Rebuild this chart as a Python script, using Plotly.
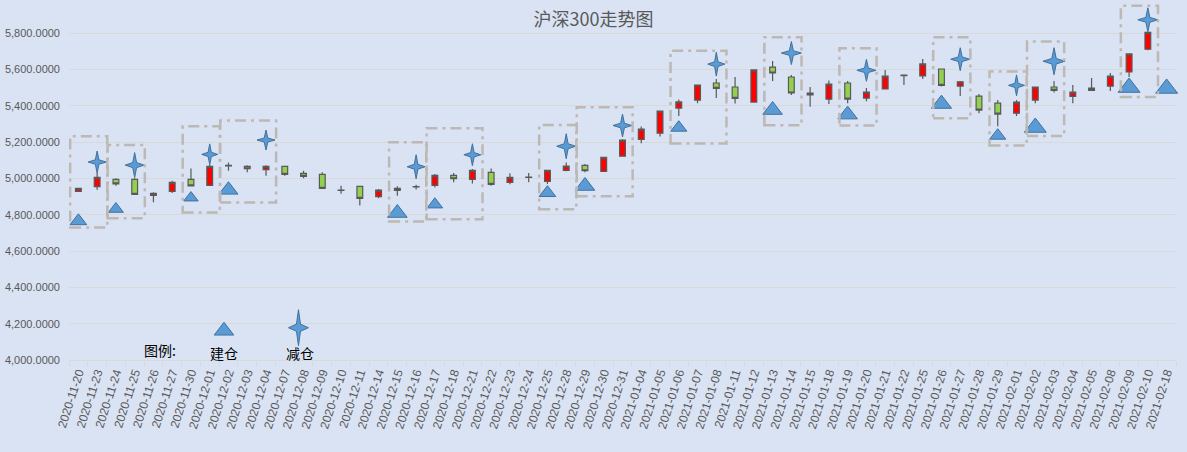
import plotly.graph_objects as go

# ---------------- data ----------------
dates = [
    "2020-11-20", "2020-11-23", "2020-11-24", "2020-11-25", "2020-11-26", "2020-11-27", "2020-11-30",
    "2020-12-01", "2020-12-02", "2020-12-03", "2020-12-04", "2020-12-07", "2020-12-08", "2020-12-09",
    "2020-12-10", "2020-12-11", "2020-12-14", "2020-12-15", "2020-12-16", "2020-12-17", "2020-12-18",
    "2020-12-21", "2020-12-22", "2020-12-23", "2020-12-24", "2020-12-25", "2020-12-28", "2020-12-29",
    "2020-12-30", "2020-12-31", "2021-01-04", "2021-01-05", "2021-01-06", "2021-01-07", "2021-01-08",
    "2021-01-11", "2021-01-12", "2021-01-13", "2021-01-14", "2021-01-15", "2021-01-18", "2021-01-19",
    "2021-01-20", "2021-01-21", "2021-01-22", "2021-01-25", "2021-01-26", "2021-01-27", "2021-01-28",
    "2021-01-29", "2021-02-01", "2021-02-02", "2021-02-03", "2021-02-04", "2021-02-05", "2021-02-08",
    "2021-02-09", "2021-02-10", "2021-02-18",
]

open_ = [4928, 4954, 4994, 4994, 4906, 4928, 4994, 4961, 5068, 5066, 5048, 5066, 5028, 5022, 4936,
         4956, 4900, 4934, 4953, 4961, 5017, 4994, 5033, 4978, 5005, 4983, 5044, 5072, 5039, 5122,
         5215, 5249, 5387, 5431, 5525, 5503, 5420, 5613, 5558, 5470, 5436, 5525, 5442, 5492, 5568,
         5564, 5602, 5508, 5453, 5414, 5359, 5431, 5503, 5451, 5497, 5508, 5586, 5711]
high = [4948, 5029, 5000, 5000, 4924, 4987, 5055, 5073, 5088, 5072, 5072, 5068, 5042, 5033, 4959,
        4958, 4941, 4956, 4965, 5024, 5029, 5051, 5055, 5028, 5029, 5044, 5088, 5079, 5116, 5215,
        5285, 5370, 5434, 5514, 5547, 5558, 5597, 5646, 5569, 5503, 5539, 5536, 5497, 5597, 5569,
        5657, 5602, 5536, 5464, 5431, 5431, 5503, 5536, 5514, 5552, 5580, 5685, 5807]
low = [4925, 4937, 4959, 4910, 4869, 4919, 4959, 4961, 5042, 5033, 5014, 5014, 5000, 4945, 4915,
       4851, 4890, 4904, 4939, 4950, 4978, 4972, 4959, 4967, 4978, 4969, 5039, 5033, 5039, 5122,
       5193, 5230, 5343, 5414, 5442, 5412, 5420, 5536, 5459, 5394, 5409, 5414, 5425, 5492, 5514,
       5547, 5506, 5453, 5359, 5287, 5343, 5414, 5473, 5414, 5481, 5481, 5558, 5705]
close = [4945, 5006, 4970, 4912, 4917, 4978, 4959, 5066, 5071, 5053, 5066, 5022, 5011, 4945, 4934,
         4890, 4935, 4945, 4955, 5017, 4998, 5044, 4967, 5006, 5007, 5044, 5068, 5042, 5116, 5211,
         5271, 5370, 5421, 5514, 5495, 5440, 5597, 5580, 5470, 5459, 5519, 5436, 5475, 5563, 5565,
         5630, 5512, 5532, 5376, 5354, 5420, 5503, 5484, 5475, 5484, 5563, 5685, 5804]

# 建仓 (build position) signals
buy_dates = ["2020-11-20", "2020-11-24", "2020-11-30", "2020-12-02", "2020-12-15", "2020-12-17",
             "2020-12-25", "2020-12-29", "2021-01-06", "2021-01-13", "2021-01-19", "2021-01-26",
             "2021-01-29", "2021-02-02", "2021-02-09", "2021-02-18"]
buy_values = [4765, 4831, 4893, 4936, 4809, 4856, 4920, 4958, 5279, 5376, 5351, 5410,
              5235, 5280, 5500, 5495]

# 减仓 (reduce position) signals
sell_dates = ["2020-11-23", "2020-11-25", "2020-12-01", "2020-12-04", "2020-12-16", "2020-12-21",
              "2020-12-28", "2020-12-31", "2021-01-08", "2021-01-14", "2021-01-20", "2021-01-27",
              "2021-02-01", "2021-02-03", "2021-02-10"]
sell_values = [5090, 5073, 5132, 5211, 5064, 5130, 5177, 5291, 5629, 5690, 5595, 5656,
               5512, 5645, 5873]

# dashed boxes grouping trades
box_start = ["2020-11-20", "2020-11-24", "2020-11-30", "2020-12-02", "2020-12-15", "2020-12-17",
             "2020-12-25", "2020-12-29", "2021-01-06", "2021-01-13", "2021-01-19", "2021-01-26",
             "2021-01-29", "2021-02-02", "2021-02-09"]
box_end = ["2020-11-23", "2020-11-25", "2020-12-01", "2020-12-04", "2020-12-16", "2020-12-21",
           "2020-12-28", "2020-12-31", "2021-01-08", "2021-01-14", "2021-01-20", "2021-01-27",
           "2021-02-01", "2021-02-03", "2021-02-10"]
box_low = [4729, 4781, 4812, 4867, 4762, 4775, 4830, 4901, 5192, 5292, 5291, 5331, 5181, 5233, 5448]
box_high = [5232, 5184, 5287, 5318, 5199, 5276, 5294, 5392, 5703, 5777, 5716, 5777, 5588, 5753, 5950]

title_text = "沪深300走势图"
legend_title = "图例:"
buy_label = "建仓"
sell_label = "减仓"

# ---------------- styles ----------------
W, H = 1187, 452
ML, MR, MT, MB = 69, 11, 4, 92
Y0, Y1 = 4000, 5960
buy_sizes = [14.5, 13, 12.5, 16.5, 17, 13.5, 14.5, 17, 14, 17, 17, 17.5, 14, 19, 19, 19]
# star extents in pixels (width, height)
star_w = [18, 19, 16, 18, 18, 17, 19, 19, 17, 20, 19, 19, 16, 22, 20]
star_h = [22, 25, 21, 20, 24, 22, 25, 23, 24, 23, 22, 23, 21, 27, 24]
STAR_K = 0.2

BG = "#DAE3F3"
GRID = "#D9D9D9"
TXT = "#595959"
MARK_FILL = "#5B9BD5"
MARK_LINE = "#41719C"

idx = {d: i for i, d in enumerate(dates)}
xs = list(range(len(open_)))
px_per_x = (W - ML - MR) / len(dates)
px_per_y = (H - MT - MB) / (Y1 - Y0)


def star_path(cx, cy, hw, hh, k=STAR_K):
    pts = [(cx, cy + hh), (cx + k * hw, cy + k * hh), (cx + hw, cy), (cx + k * hw, cy - k * hh),
           (cx, cy - hh), (cx - k * hw, cy - k * hh), (cx - hw, cy), (cx - k * hw, cy + k * hh),
           (cx, cy + hh)]
    return [p[0] for p in pts], [p[1] for p in pts]


fig = go.Figure()

fig.add_trace(go.Candlestick(
    x=xs, open=open_, high=high, low=low, close=close,
    increasing=dict(fillcolor="#FF0000", line=dict(color="#595959", width=1.2)),
    decreasing=dict(fillcolor="#92D050", line=dict(color="#595959", width=1.2)),
    whiskerwidth=0, showlegend=False, hoverinfo="skip",
))

fig.add_trace(go.Scatter(
    x=[idx[d] for d in buy_dates], y=buy_values, mode="markers",
    marker=dict(symbol="triangle-up", size=buy_sizes, color=MARK_FILL, opacity=1,
                line=dict(color=MARK_LINE, width=1)),
    showlegend=False, hoverinfo="skip", cliponaxis=False,
))

for d, v, w, h in zip(sell_dates, sell_values, star_w, star_h):
    sx, sy = star_path(idx[d], v, w / 2 / px_per_x, h / 2 / px_per_y)
    fig.add_trace(go.Scatter(
        x=sx, y=sy, mode="lines", fill="toself", fillcolor=MARK_FILL,
        line=dict(color=MARK_LINE, width=1), showlegend=False, hoverinfo="skip",
    ))

# legend symbols on an overlay (paper-like) axis
fig.add_trace(go.Scatter(
    x=[0.140], y=[0.082], mode="markers", xaxis="x2", yaxis="y2",
    marker=dict(symbol="triangle-up", size=17, color=MARK_FILL, opacity=1,
                line=dict(color=MARK_LINE, width=1)),
    showlegend=False, hoverinfo="skip", cliponaxis=False,
))
lx, ly = star_path(0.2073, 0.0907, 10 / (W - ML - MR), 18 / (H - MT - MB))
fig.add_trace(go.Scatter(
    x=lx, y=ly, mode="lines", fill="toself", fillcolor=MARK_FILL, xaxis="x2", yaxis="y2",
    line=dict(color=MARK_LINE, width=1), showlegend=False, hoverinfo="skip",
))

shapes = []
for s, e, lo, hi in zip(box_start, box_end, box_low, box_high):
    shapes.append(dict(
        type="rect", xref="x", yref="y",
        x0=idx[s] - 0.44, x1=idx[e] + 0.54, y0=lo, y1=hi,
        line=dict(color="#BDB8B3", width=2.5, dash="11px,5px,3px,5px"),
        fillcolor="rgba(0,0,0,0)", layer="above",
    ))

fig.update_layout(
    width=W, height=H,
    margin=dict(l=ML, r=MR, t=MT, b=MB),
    paper_bgcolor=BG, plot_bgcolor=BG,
    boxgap=0.56,
    title=dict(text=title_text, x=0.5, xanchor="center", y=1 - 20 / H, yanchor="middle",
               yref="container", font=dict(family="Noto Sans CJK SC", size=18, color=TXT)),
    xaxis=dict(
        range=[-0.5, len(dates) - 0.5],
        tickmode="array", tickvals=list(range(len(dates))), ticktext=dates,
        tickangle=-72, ticks="", showgrid=False, zeroline=False,
        showline=True, linecolor=GRID, linewidth=1,
        tickfont=dict(family="Liberation Sans", size=12, color=TXT),
        rangeslider=dict(visible=False),
        minor=dict(tickmode="linear", tick0=-0.5, dtick=1, ticks="outside",
                   ticklen=5, tickcolor=GRID, showgrid=False),
        fixedrange=True,
    ),
    yaxis=dict(
        range=[Y0, Y1], tick0=4000, dtick=200, tickformat=",.4f",
        showgrid=True, gridcolor=GRID, gridwidth=1, zeroline=False, showline=False,
        tickfont=dict(family="Liberation Sans", size=11, color=TXT), ticks="",
        ticklabelstandoff=8, fixedrange=True,
    ),
    xaxis2=dict(overlaying="x", range=[0, 1], visible=False, fixedrange=True),
    yaxis2=dict(overlaying="y", range=[0, 1], visible=False, fixedrange=True),
    shapes=shapes,
    annotations=[
        dict(text=legend_title, xref="paper", yref="paper", x=0.0822, y=0.029,
             xanchor="center", yanchor="middle", showarrow=False,
             font=dict(family="Noto Sans CJK SC", size=14, color="#000000")),
        dict(text=buy_label, xref="paper", yref="paper", x=0.140, y=0.0205,
             xanchor="center", yanchor="middle", showarrow=False,
             font=dict(family="Noto Sans CJK SC", size=14, color="#000000")),
        dict(text=sell_label, xref="paper", yref="paper", x=0.2087, y=0.0205,
             xanchor="center", yanchor="middle", showarrow=False,
             font=dict(family="Noto Sans CJK SC", size=14, color="#000000")),
    ],
)

fig.write_html("out.html", config={"displayModeBar": False},
               post_script="document.body.style.margin='0';document.body.style.background='#DAE3F3';")
